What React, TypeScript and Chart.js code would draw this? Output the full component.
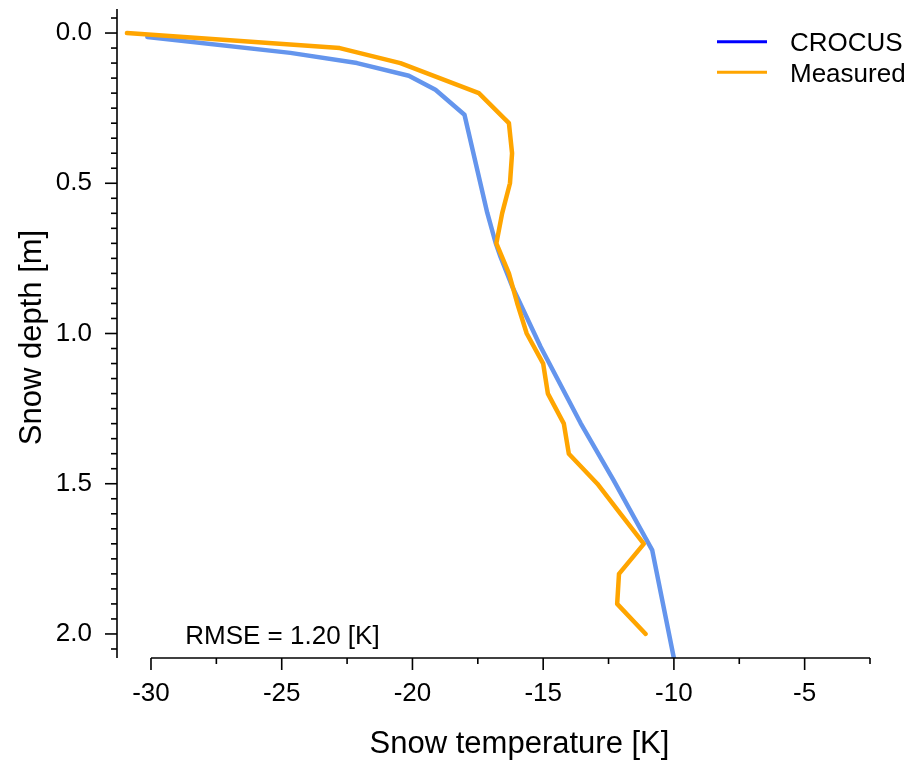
import React, { useEffect, useRef } from 'react';
import { Chart, registerables } from 'chart.js';

Chart.register(...registerables);

// ---- data ----
const CROCUS_TEMP = [-30.14, -24.67, -22.12, -20.14, -19.12, -18.01, -17.14, -16.82, -16.63, -16.18, -15.10, -13.57, -12.31, -10.83, -10.0];
const CROCUS_DEPTH = [0.013, 0.066, 0.100, 0.142, 0.189, 0.272, 0.598, 0.698, 0.745, 0.844, 1.044, 1.298, 1.488, 1.721, 2.081];

const MEASURED_TEMP = [-30.92, -22.78, -20.46, -17.46, -16.31, -16.19, -16.27, -16.57, -16.79, -16.31, -15.99, -15.63, -15.0, -14.82, -14.21, -14.02, -12.93, -12.04, -11.15, -12.10, -12.17, -11.08];
const MEASURED_DEPTH = [0.0, 0.05, 0.10, 0.20, 0.30, 0.40, 0.50, 0.60, 0.70, 0.80, 0.90, 1.00, 1.10, 1.20, 1.30, 1.40, 1.50, 1.60, 1.70, 1.80, 1.90, 2.00];

const SERIES_LABELS = ['CROCUS', 'Measured'];
const LINE_COLORS = ['#6495ED', '#FFA500'];
const LEGEND_COLORS = ['#0000FF', '#FFA500'];

const X_MAJOR_TICKS = [-30, -25, -20, -15, -10, -5];
const X_MINOR_TICKS = [-27.5, -22.5, -17.5, -12.5, -7.5, -2.5];
const X_SPINE_BOUNDS = [-30, -2.5];
const Y_MAJOR_TICKS = [0, 0.5, 1.0, 1.5, 2.0];
const Y_MINOR_RANGE = [-0.05, 2.05];
const Y_MINOR_STEP = 0.05;

const X_TITLE = 'Snow temperature [K]';
const Y_TITLE = 'Snow depth [m]';
const RMSE_TEXT = 'RMSE = 1.20 [K]';
const RMSE_POS = [-28.69, 2.033];

const FONT = "'Liberation Sans', Arial, Helvetica, sans-serif";

const decorPlugin = {
  id: 'decor',
  afterDraw(chart: any) {
    const { ctx, chartArea } = chart;
    const xs = chart.scales.x;
    const ys = chart.scales.y;
    ctx.save();
    ctx.strokeStyle = '#000';
    ctx.lineWidth = 1.6;
    ctx.lineCap = 'butt';
    const left = chartArea.left;
    const bottom = chartArea.bottom;
    // left spine
    ctx.beginPath();
    ctx.moveTo(left, chartArea.top);
    ctx.lineTo(left, bottom);
    ctx.stroke();
    // y major ticks
    for (const v of Y_MAJOR_TICKS) {
      const p = ys.getPixelForValue(v);
      ctx.beginPath();
      ctx.moveTo(left, p);
      ctx.lineTo(left - 12, p);
      ctx.stroke();
    }
    // y minor ticks
    const nMinor = Math.round((Y_MINOR_RANGE[1] - Y_MINOR_RANGE[0]) / Y_MINOR_STEP);
    for (let i = 0; i <= nMinor; i++) {
      const v = Y_MINOR_RANGE[0] + i * Y_MINOR_STEP;
      if (Y_MAJOR_TICKS.some((m) => Math.abs(m - v) < 1e-6)) continue;
      const p = ys.getPixelForValue(v);
      ctx.beginPath();
      ctx.moveTo(left, p);
      ctx.lineTo(left - 6, p);
      ctx.stroke();
    }
    // bottom spine
    const x0 = xs.getPixelForValue(X_SPINE_BOUNDS[0]);
    const x1 = xs.getPixelForValue(X_SPINE_BOUNDS[1]);
    ctx.beginPath();
    ctx.moveTo(x0, bottom);
    ctx.lineTo(x1, bottom);
    ctx.stroke();
    for (const v of X_MAJOR_TICKS) {
      const p = xs.getPixelForValue(v);
      ctx.beginPath();
      ctx.moveTo(p, bottom);
      ctx.lineTo(p, bottom + 12);
      ctx.stroke();
    }
    for (const v of X_MINOR_TICKS) {
      const p = xs.getPixelForValue(v);
      ctx.beginPath();
      ctx.moveTo(p, bottom);
      ctx.lineTo(p, bottom + 6);
      ctx.stroke();
    }

    ctx.fillStyle = '#000';
    ctx.textBaseline = 'alphabetic';

    // axis titles
    ctx.font = `31px ${FONT}`;
    ctx.textAlign = 'center';
    ctx.fillText(X_TITLE, chartArea.left + 402.5, chartArea.bottom + 95);
    ctx.save();
    ctx.translate(40.5, (chartArea.top + chartArea.bottom) / 2 + 4);
    ctx.rotate(-Math.PI / 2);
    ctx.fillText(Y_TITLE, 0, 0);
    ctx.restore();

    // RMSE annotation
    ctx.font = `26px ${FONT}`;
    ctx.textAlign = 'left';
    ctx.fillText(RMSE_TEXT, xs.getPixelForValue(RMSE_POS[0]), ys.getPixelForValue(RMSE_POS[1]));

    // legend (upper right)
    ctx.font = `26px ${FONT}`;
    const right = chartArea.right;
    SERIES_LABELS.forEach((label, i) => {
      const ly = chartArea.top + 32.7 + i * 30.6;
      ctx.strokeStyle = LEGEND_COLORS[i];
      ctx.lineWidth = 3;
      ctx.beginPath();
      ctx.moveTo(right - 153, ly);
      ctx.lineTo(right - 103, ly);
      ctx.stroke();
      ctx.fillStyle = '#000';
      ctx.fillText(label, right - 80, ly + 9.5);
    });
    ctx.restore();
  },
};

export default function App() {
  const canvasRef = useRef<HTMLCanvasElement | null>(null);

  useEffect(() => {
    document.body.style.margin = '0';
    const canvas = canvasRef.current;
    if (!canvas) return;
    const chart = new Chart(canvas, {
      type: 'scatter',
      data: {
        datasets: [
          {
            label: SERIES_LABELS[0],
            data: CROCUS_TEMP.map((t, i) => ({ x: t, y: CROCUS_DEPTH[i] })),
            showLine: true,
            borderColor: LINE_COLORS[0],
            backgroundColor: LINE_COLORS[0],
            borderWidth: 4.5,
            pointRadius: 0,
            borderJoinStyle: 'round',
            borderCapStyle: 'round',
            order: 1,
          },
          {
            label: SERIES_LABELS[1],
            data: MEASURED_TEMP.map((t, i) => ({ x: t, y: MEASURED_DEPTH[i] })),
            showLine: true,
            borderColor: LINE_COLORS[1],
            backgroundColor: LINE_COLORS[1],
            borderWidth: 4.5,
            pointRadius: 0,
            borderJoinStyle: 'round',
            borderCapStyle: 'round',
            order: 0,
          },
        ],
      },
      options: {
        responsive: false,
        animation: false,
        devicePixelRatio: 1,
        layout: { padding: { left: 0, right: 39, top: 9, bottom: 0 } },
        plugins: {
          legend: { display: false },
          tooltip: { enabled: false },
        },
        scales: {
          x: {
            type: 'linear',
            position: 'bottom',
            min: -31.3,
            max: -2.5,
            grid: { display: false, drawTicks: false },
            border: { display: false },
            ticks: {
              padding: 20,
              color: '#000',
              maxRotation: 0,
              autoSkip: false,
              font: { size: 26, family: FONT },
              callback: (v: any) => String(v),
            },
            afterBuildTicks: (s: any) => {
              s.ticks = X_MAJOR_TICKS.map((v) => ({ value: v }));
            },
            afterFit: (s: any) => {
              s.height = 105;
              s.paddingLeft = 0;
              s.paddingRight = 0;
            },
            title: { display: false },
          },
          y: {
            type: 'linear',
            reverse: true,
            min: -0.08,
            max: 2.08,
            grid: { display: false, drawTicks: false },
            border: { display: false },
            ticks: {
              padding: 25,
              color: '#000',
              autoSkip: false,
              font: { size: 26, family: FONT },
              callback: (v: any) => Number(v).toFixed(1),
            },
            afterBuildTicks: (s: any) => {
              s.ticks = Y_MAJOR_TICKS.map((v) => ({ value: v }));
            },
            afterFit: (s: any) => {
              s.width = 117;
              s.paddingTop = 0;
              s.paddingBottom = 0;
            },
            title: { display: false },
          },
        },
      } as any,
      plugins: [decorPlugin],
    });
    return () => chart.destroy();
  }, []);

  return (
    <div style={{ position: 'absolute', left: 0, top: 0, width: 909, height: 763 }}>
      <canvas ref={canvasRef} width={909} height={763} style={{ width: 909, height: 763, display: 'block' }} />
    </div>
  );
}
